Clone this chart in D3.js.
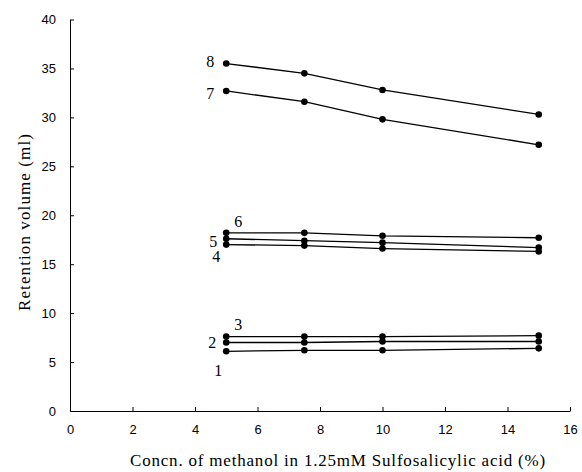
<!DOCTYPE html>
<meta charset="utf-8">
<style>
  body { margin: 0; background: #fff; }
  .tick text { font-family: "Liberation Sans", Arial, sans-serif; font-size: 13px; fill: #000; }
  .lbl { font-family: "Liberation Serif", "Times New Roman", serif; font-size: 16px; fill: #000; }
  .title { font-family: "Liberation Serif", "Times New Roman", serif; font-size: 17px; fill: #000; }
</style>
<script src="https://d3js.org/d3.v7.min.js"></script>
<svg width="582" height="472"></svg>
<script>
const svg = d3.select('svg');

// methanol concentration (%)
const conc = [5, 7.5, 10, 15];
// retention volumes (ml), one array per compound
const s1 = [6.1, 6.2, 6.2, 6.4];
const s2 = [7.0, 7.0, 7.1, 7.1];
const s3 = [7.6, 7.6, 7.6, 7.7];
const s4 = [17.0, 16.9, 16.6, 16.3];
const s5 = [17.6, 17.4, 17.2, 16.7];
const s6 = [18.2, 18.2, 17.9, 17.7];
const s7 = [32.7, 31.6, 29.8, 27.2];
const s8 = [35.5, 34.5, 32.8, 30.3];
const names = ['1', '2', '3', '4', '5', '6', '7', '8'];
const xTicks = [0, 2, 4, 6, 8, 10, 12, 14, 16];
const yTicks = [0, 5, 10, 15, 20, 25, 30, 35, 40];

const series = [s1, s2, s3, s4, s5, s6, s7, s8];
// label offsets from the first point (px)
const offs = [[-8, 19], [-14, 0], [12, -12], [-10, 12], [-13, 3], [12, -11], [-16, 2], [-16, -2]];

const x = d3.scaleLinear().domain([0, 16]).range([70, 570]);
const y = d3.scaleLinear().domain([0, 40]).range([411, 19.5]);

svg.append('g')
  .attr('transform', 'translate(0,411)')
  .call(d3.axisBottom(x).tickValues(xTicks).tickSizeInner(-4).tickSizeOuter(0).tickPadding(14))
  .call(g => g.select('.domain').attr('stroke-width', 1));

svg.append('g')
  .attr('transform', 'translate(70,0)')
  .call(d3.axisLeft(y).tickValues(yTicks).tickSizeInner(-4).tickSizeOuter(0).tickPadding(14))
  .call(g => g.select('.domain').attr('stroke-width', 1));

const line = d3.line().x((d, i) => x(conc[i])).y(d => y(d));

series.forEach((s, k) => {
  svg.append('path')
    .attr('d', line(s))
    .attr('fill', 'none')
    .attr('stroke', '#000')
    .attr('stroke-width', 1.3);
  svg.selectAll(null)
    .data(s)
    .enter().append('circle')
    .attr('cx', (d, i) => x(conc[i]))
    .attr('cy', d => y(d))
    .attr('r', 3.3)
    .attr('fill', '#000');
  svg.append('text')
    .attr('class', 'lbl')
    .attr('x', x(conc[0]) + offs[k][0])
    .attr('y', y(s[0]) + offs[k][1])
    .attr('dy', '0.35em')
    .attr('text-anchor', 'middle')
    .text(names[k]);
});

svg.append('text')
  .attr('class', 'title')
  .attr('transform', 'translate(30,222) rotate(-90)')
  .attr('text-anchor', 'middle')
  .style('letter-spacing', '1.1px')
  .text('Retention volume (ml)');

svg.append('text')
  .attr('class', 'title')
  .attr('x', 338)
  .attr('y', 466)
  .attr('text-anchor', 'middle')
  .style('letter-spacing', '0.8px')
  .text('Concn. of methanol in 1.25mM Sulfosalicylic acid (%)');
</script>
